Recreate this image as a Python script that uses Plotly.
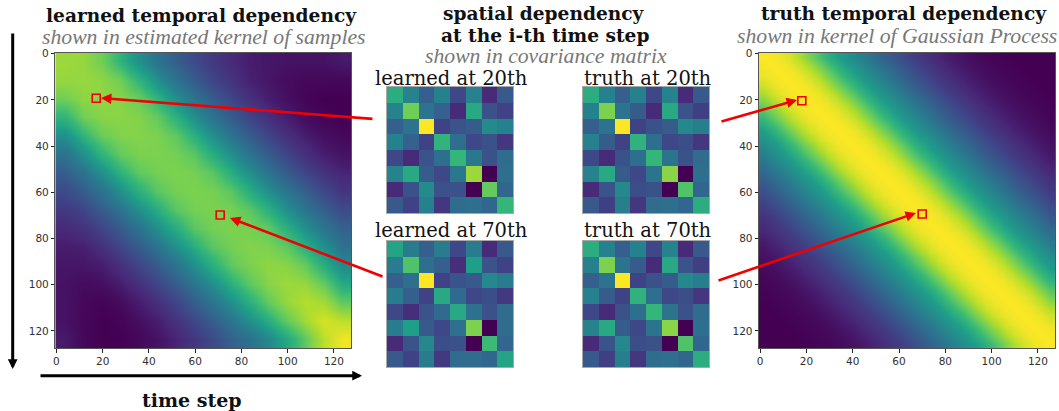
import plotly.graph_objects as go

W, H = 1059, 411

# ---------- data ----------
tick_values = [0, 20, 40, 60, 80, 100, 120]

# learned kernel values sampled every 8 time steps (upper triangle, row by row)
learned_kernel_upper = [
    [.85, .84, .78, .65, .50, .38, .30, .23, .17, .12, .08, .06, .05, .05, .05, .07],
    [.84, .83, .78, .65, .50, .38, .29, .21, .15, .09, .06, .03, .02, .02, .02],
    [.83, .82, .77, .65, .50, .38, .29, .21, .14, .08, .04, .01, .00, .00],
    [.82, .81, .76, .64, .50, .38, .29, .21, .14, .08, .03, .01, .00],
    [.81, .80, .75, .63, .50, .38, .29, .21, .14, .08, .04, .02],
    [.80, .79, .74, .62, .50, .38, .29, .21, .14, .08, .05],
    [.80, .79, .74, .62, .50, .38, .29, .21, .15, .10],
    [.80, .79, .74, .62, .50, .39, .30, .22, .16],
    [.80, .79, .74, .63, .50, .39, .30, .23],
    [.80, .79, .75, .63, .50, .39, .31],
    [.81, .80, .75, .63, .50, .37],
    [.83, .82, .76, .62, .47],
    [.85, .84, .76, .60],
    [.89, .86, .75],
    [.94, .90],
    [.98],
]
# truth kernel value by lag, sampled every 4 time steps
truth_kernel_by_lag = [1.0, .99, .97, .93, .87, .79, .71, .63, .56, .51, .46, .41, .36, .31, .27,
                       .23, .19, .16, .13, .10, .075, .055, .04, .025, .015, .01, .005, 0, 0, 0, 0, 0]

learned_20 = [
    [.62, .45, .30, .44, .22, .45, .12, .28],
    [.45, .78, .38, .31, .12, .60, .25, .20],
    [.30, .38, 1.0, .20, .26, .29, .48, .44],
    [.44, .31, .20, .65, .36, .22, .25, .16],
    [.22, .12, .26, .36, .66, .40, .25, .35],
    [.45, .60, .29, .22, .40, .85, .00, .36],
    [.12, .25, .48, .25, .25, .00, .76, .33],
    [.28, .20, .44, .16, .35, .36, .33, .66],
]
truth_20 = [
    [.62, .44, .30, .44, .22, .45, .12, .28],
    [.44, .80, .38, .29, .12, .60, .26, .19],
    [.30, .38, 1.0, .20, .25, .29, .47, .43],
    [.44, .29, .20, .64, .36, .22, .24, .16],
    [.22, .12, .25, .36, .66, .38, .25, .35],
    [.45, .60, .29, .22, .38, .82, .00, .36],
    [.12, .26, .47, .24, .25, .00, .72, .33],
    [.28, .19, .43, .16, .35, .36, .33, .62],
]
learned_70 = [
    [.58, .42, .30, .42, .22, .42, .12, .28],
    [.42, .72, .36, .30, .13, .56, .26, .20],
    [.30, .36, 1.0, .20, .26, .28, .47, .42],
    [.42, .30, .20, .60, .34, .22, .24, .17],
    [.22, .13, .26, .34, .60, .37, .25, .35],
    [.42, .56, .28, .22, .37, .80, .00, .35],
    [.12, .26, .47, .24, .25, .00, .68, .33],
    [.28, .20, .42, .17, .35, .35, .33, .58],
]
truth_70 = [
    [.62, .44, .30, .44, .22, .45, .12, .28],
    [.44, .80, .38, .29, .12, .60, .26, .19],
    [.30, .38, 1.0, .20, .25, .29, .47, .43],
    [.44, .29, .20, .64, .36, .22, .24, .16],
    [.22, .12, .25, .36, .66, .38, .25, .35],
    [.45, .60, .29, .22, .38, .82, .00, .36],
    [.12, .26, .47, .24, .25, .00, .72, .33],
    [.28, .19, .43, .16, .35, .36, .33, .62],
]

learned_marks_x = [17.2, 70.8]
learned_marks_y = [19.3, 69.8]
truth_marks_x = [18.0, 70.0]
truth_marks_y = [20.4, 69.4]


def mirror(upper):
    n = len(upper)
    out = [[0.0] * n for _ in range(n)]
    for i, row in enumerate(upper):
        for k, v in enumerate(row):
            out[i][i + k] = v
            out[i + k][i] = v
    return out


def toeplitz(by_lag):
    n = len(by_lag)
    return [[by_lag[abs(i - j)] for j in range(n)] for i in range(n)]


def px(x):
    return x / W


def py(y):
    return 1 - y / H


fig = go.Figure()

# ---------- panels (pixel boxes: left, top, right, bottom) ----------
big_panels = [
    ("", mirror(learned_kernel_upper), 3.5, 8, (55.3, 52.5, 351.3, 348.3), learned_marks_x, learned_marks_y),
    ("2", toeplitz(truth_kernel_by_lag), 1.5, 4, (759.0, 52.5, 1055.3, 348.3), truth_marks_x, truth_marks_y),
]
small_panels = [
    ("3", learned_20, (387, 87, 513, 213)),
    ("4", truth_20, (583, 87, 709, 213)),
    ("5", learned_70, (387, 241, 513, 367)),
    ("6", truth_70, (583, 241, 709, 367)),
]

layout = {}
for sfx, z, c0, step, (l, t, r, b), mx, my in big_panels:
    fig.add_trace(go.Heatmap(z=z, x0=c0, dx=step, y0=c0, dy=step, zmin=0, zmax=1,
                             colorscale="Viridis", showscale=False, zsmooth="best",
                             xaxis="x" + sfx, yaxis="y" + sfx, hoverinfo="skip"))
    fig.add_trace(go.Scatter(x=mx, y=my, mode="markers", xaxis="x" + sfx, yaxis="y" + sfx,
                             marker=dict(symbol="square-open", size=8, color="#f00000",
                                         line=dict(width=1.6, color="#f00000")),
                             showlegend=False, hoverinfo="skip"))
    common = dict(tickvals=tick_values, ticks="outside", ticklen=3.5, tickwidth=0.8,
                  tickcolor="#222", showgrid=False, zeroline=False, showline=True,
                  linecolor="#555", linewidth=0.8, mirror=True, automargin=False,
                  tickfont=dict(family="DejaVu Sans", size=10.5, color="#303030"))
    layout["xaxis" + sfx] = dict(domain=[px(l), px(r)], range=[-0.5, 127.5],
                                 anchor="y" + sfx, side="bottom", **common)
    layout["yaxis" + sfx] = dict(domain=[py(b), py(t)], range=[127.5, -0.5],
                                 anchor="x" + sfx, **common)

for sfx, z, (l, t, r, b) in small_panels:
    fig.add_trace(go.Heatmap(z=z, zmin=0, zmax=1, colorscale="Viridis", showscale=False,
                             xaxis="x" + sfx, yaxis="y" + sfx, hoverinfo="skip"))
    common = dict(showticklabels=False, ticks="", showgrid=False, zeroline=False,
                  showline=True, linecolor="#a8a8a8", linewidth=1, mirror=True, automargin=False)
    layout["xaxis" + sfx] = dict(domain=[px(l), px(r)], range=[-0.5, 7.5],
                                 anchor="y" + sfx, **common)
    layout["yaxis" + sfx] = dict(domain=[py(b), py(t)], range=[7.5, -0.5],
                                 anchor="x" + sfx, **common)

# ---------- texts ----------
SERIF = "DejaVu Serif"
ITALIC = "Liberation Serif"
texts = [
    ("learned temporal dependency", 201, 16, SERIF, 18.6, "#111", "b"),
    ("shown in estimated kernel of samples", 204, 37, ITALIC, 21.7, "#777", "i"),
    ("spatial dependency", 544, 14, SERIF, 18.6, "#111", "b"),
    ("at the i-th time step", 545, 35, SERIF, 18.6, "#111", "b"),
    ("shown in covariance matrix", 546, 56, ITALIC, 21.7, "#777", "i"),
    ("truth temporal dependency", 904, 14, SERIF, 18.6, "#111", "b"),
    ("shown in kernel of Gaussian Process", 897, 36, ITALIC, 21.7, "#777", "i"),
    ("learned at 20th", 451, 78, SERIF, 19.5, "#111", ""),
    ("truth at 20th", 648, 78, SERIF, 19.5, "#111", ""),
    ("learned at 70th", 451, 230, SERIF, 19.5, "#111", ""),
    ("truth at 70th", 648, 230, SERIF, 19.5, "#111", ""),
    ("time step", 192, 400, SERIF, 19, "#111", "b"),
]
annotations = []
for s, x, y, fam, size, col, style in texts:
    label = f"<{style}>{s}</{style}>" if style else s
    annotations.append(dict(text=label, x=px(x), y=py(y), xref="paper", yref="paper",
                            xanchor="center", yanchor="middle", showarrow=False,
                            font=dict(family=fam, size=size, color=col)))

# ---------- arrows (tail pixel, head pixel) ----------
arrows = [
    ((374, 119), (101, 98), "#f00000", 2.6, 0.8),
    ((384, 277), (230, 218), "#f00000", 2.6, 0.8),
    ((720, 122), (797, 100), "#f00000", 2.6, 0.8),
    ((717, 281), (916, 213), "#f00000", 2.6, 0.8),
    ((12.7, 32), (12.7, 369), "#000000", 3, 0.65),
    ((39, 375.7), (362, 375.7), "#000000", 3, 0.65),
]
for (tx, ty), (hx, hy), col, w, hs in arrows:
    annotations.append(dict(x=px(hx), y=py(hy), xref="paper", yref="paper",
                            ax=tx - hx, ay=ty - hy, axref="pixel", ayref="pixel",
                            text="", showarrow=True, arrowhead=2, arrowsize=hs,
                            arrowwidth=w, arrowcolor=col))

fig.update_layout(width=W, height=H, margin=dict(l=0, r=0, t=0, b=0),
                  paper_bgcolor="white", plot_bgcolor="white", showlegend=False,
                  annotations=annotations, **layout)

fig.write_html("out.html", config={"displayModeBar": False},
               post_script="document.body.style.margin='0';")
